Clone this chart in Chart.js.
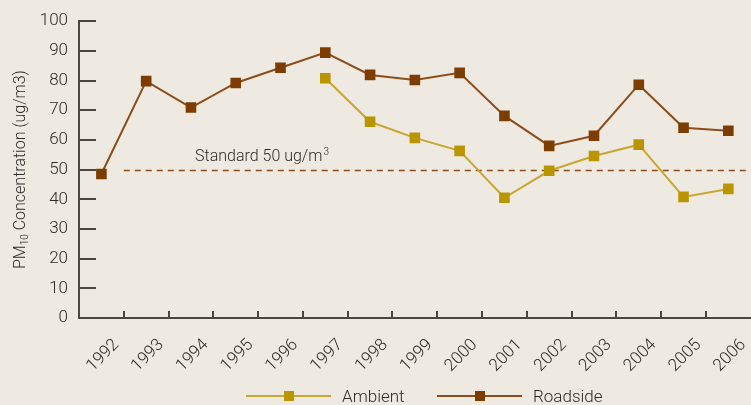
<!DOCTYPE html>
<html lang="en">
<head>
<meta charset="UTF-8">
<title>PM10 Concentration 1992-2006</title>
<script src="https://cdn.jsdelivr.net/npm/chart.js"></script>
<style>
    html, body {
        margin: 0;
        padding: 0;
        background: #eeeae2;
        overflow: hidden;
    }
    .wrap {
        width: 760px;
        height: 405px;
    }
</style>
</head>
<body>
<div class="wrap"><canvas id="pm10" width="760" height="405"></canvas></div>
<script>
    const years = ['1992', '1993', '1994', '1995', '1996', '1997', '1998', '1999',
                   '2000', '2001', '2002', '2003', '2004', '2005', '2006'];
    const ambient = [null, null, null, null, null, 80.8, 66.1, 60.7,
                     56.3, 40.5, 49.6, 54.6, 58.4, 40.8, 43.5];
    const roadside = [48.5, 79.8, 70.9, 79.2, 84.3, 89.4, 81.9, 80.2,
                      82.6, 68.1, 58.0, 61.4, 78.6, 64.1, 63.1];
    const yTicks = [0, 10, 20, 30, 40, 50, 60, 70, 80, 90, 100];
    const standard = 50;

    const FONT = 'Roboto, "DejaVu Sans Condensed", sans-serif';
    const axisColor = '#4b4641';
    const textColor = '#2e2b28';
    const ambientMark = '#b99600';
    const ambientLine = '#c7a633';
    const roadMark = '#7d3c00';
    const roadLine = '#8c4d1c';

    // inward tick marks, standard line, y title and legend
    const decorations = {
        id: 'decorations',
        beforeDatasetsDraw(chart) {
            const {ctx, chartArea, scales: {x, y}} = chart;
            const py = Math.round(y.getPixelForValue(standard)) + 0.5;
            const startX = (x.getPixelForValue(0) + x.getPixelForValue(1)) / 2;
            ctx.save();
            ctx.strokeStyle = roadLine;
            ctx.lineWidth = 1.3;
            ctx.setLineDash([6, 5]);
            ctx.beginPath();
            ctx.moveTo(startX, py);
            ctx.lineTo(chartArea.right, py);
            ctx.stroke();
            ctx.setLineDash([]);

            ctx.fillStyle = textColor;
            ctx.font = '300 16px ' + FONT;
            ctx.textBaseline = 'alphabetic';
            const label = 'Standard 50 ug/m';
            const lx = chartArea.left + 116;
            const ly = py - 10;
            ctx.fillText(label, lx, ly);
            const w = ctx.measureText(label).width;
            ctx.font = '300 10px ' + FONT;
            ctx.fillText('3', lx + w + 1, ly - 6);
            ctx.restore();
        },
        afterDraw(chart) {
            const {ctx, chartArea, scales: {x, y}} = chart;
            ctx.save();
            ctx.strokeStyle = axisColor;
            ctx.lineWidth = 2;
            ctx.beginPath();
            yTicks.forEach(v => {
                const py = Math.round(y.getPixelForValue(v));
                ctx.moveTo(chartArea.left, py);
                ctx.lineTo(chartArea.left + 17, py);
            });
            for (let i = 1; i < years.length; i++) {
                const px = Math.round((x.getPixelForValue(i - 1) + x.getPixelForValue(i)) / 2);
                ctx.moveTo(px, chartArea.bottom);
                ctx.lineTo(px, chartArea.bottom - 7);
            }
            ctx.stroke();

            // y axis title with subscript
            const cy = (chartArea.top + chartArea.bottom) / 2;
            ctx.translate(25, cy);
            ctx.rotate(-Math.PI / 2);
            ctx.fillStyle = textColor;
            ctx.textBaseline = 'alphabetic';
            const big = '300 16px ' + FONT, small = '300 10px ' + FONT;
            ctx.font = big;
            const w1 = ctx.measureText('PM').width;
            const w3 = ctx.measureText(' Concentration (ug/m3)').width;
            ctx.font = small;
            const w2 = ctx.measureText('10').width;
            let tx = -(w1 + w2 + w3) / 2;
            ctx.font = big;
            ctx.fillText('PM', tx, 0);
            tx += w1;
            ctx.font = small;
            ctx.fillText('10', tx, 3);
            tx += w2;
            ctx.font = big;
            ctx.fillText(' Concentration (ug/m3)', tx, 0);
            ctx.setTransform(1, 0, 0, 1, 0, 0);

            // legend
            const items = [
                {label: 'Ambient', line: ambientLine, mark: ambientMark, x0: 246},
                {label: 'Roadside', line: roadLine, mark: roadMark, x0: 437}
            ];
            const ly = 396;
            items.forEach(it => {
                ctx.strokeStyle = it.line;
                ctx.lineWidth = 2;
                ctx.beginPath();
                ctx.moveTo(it.x0, ly);
                ctx.lineTo(it.x0 + 85, ly);
                ctx.stroke();
                ctx.fillStyle = it.mark;
                ctx.fillRect(it.x0 + 38, ly - 5, 10, 10);
                ctx.fillStyle = textColor;
                ctx.font = '300 17px ' + FONT;
                ctx.fillText(it.label, it.x0 + 96, ly + 6);
            });
            ctx.restore();
        }
    };

    new Chart(document.getElementById('pm10'), {
        type: 'line',
        data: {
            labels: years,
            datasets: [{
                label: 'Ambient',
                data: ambient,
                borderColor: ambientLine,
                backgroundColor: ambientMark,
                pointBackgroundColor: ambientMark,
                pointBorderColor: ambientMark,
                borderWidth: 2,
                pointStyle: 'rect',
                pointRadius: 7.5,
                pointBorderWidth: 0,
                tension: 0
            }, {
                label: 'Roadside',
                data: roadside,
                borderColor: roadLine,
                backgroundColor: roadMark,
                pointBackgroundColor: roadMark,
                pointBorderColor: roadMark,
                borderWidth: 2,
                pointStyle: 'rect',
                pointRadius: 7.5,
                pointBorderWidth: 0,
                tension: 0
            }]
        },
        options: {
            responsive: false,
            animation: false,
            layout: {padding: {top: 21, right: 6, left: 0, bottom: 0}},
            plugins: {
                legend: {display: false},
                tooltip: {enabled: false}
            },
            scales: {
                x: {
                    type: 'category',
                    offset: true,
                    grid: {display: false, drawTicks: false, offset: true},
                    border: {display: true, color: axisColor, width: 2},
                    ticks: {
                        minRotation: 45,
                        maxRotation: 45,
                        labelOffset: 15,
                        padding: 17,
                        color: textColor,
                        font: {family: FONT, size: 17, weight: 300}
                    },
                    afterFit: s => { s.height = 87; }
                },
                y: {
                    min: 0,
                    max: 100,
                    grid: {display: false, drawTicks: false},
                    border: {display: true, color: axisColor, width: 2},
                    ticks: {
                        stepSize: 10,
                        padding: 11,
                        color: textColor,
                        font: {family: FONT, size: 17, weight: 300}
                    },
                    afterFit: s => { s.width = 79; }
                }
            }
        },
        plugins: [decorations]
    });
</script>
</body>
</html>
